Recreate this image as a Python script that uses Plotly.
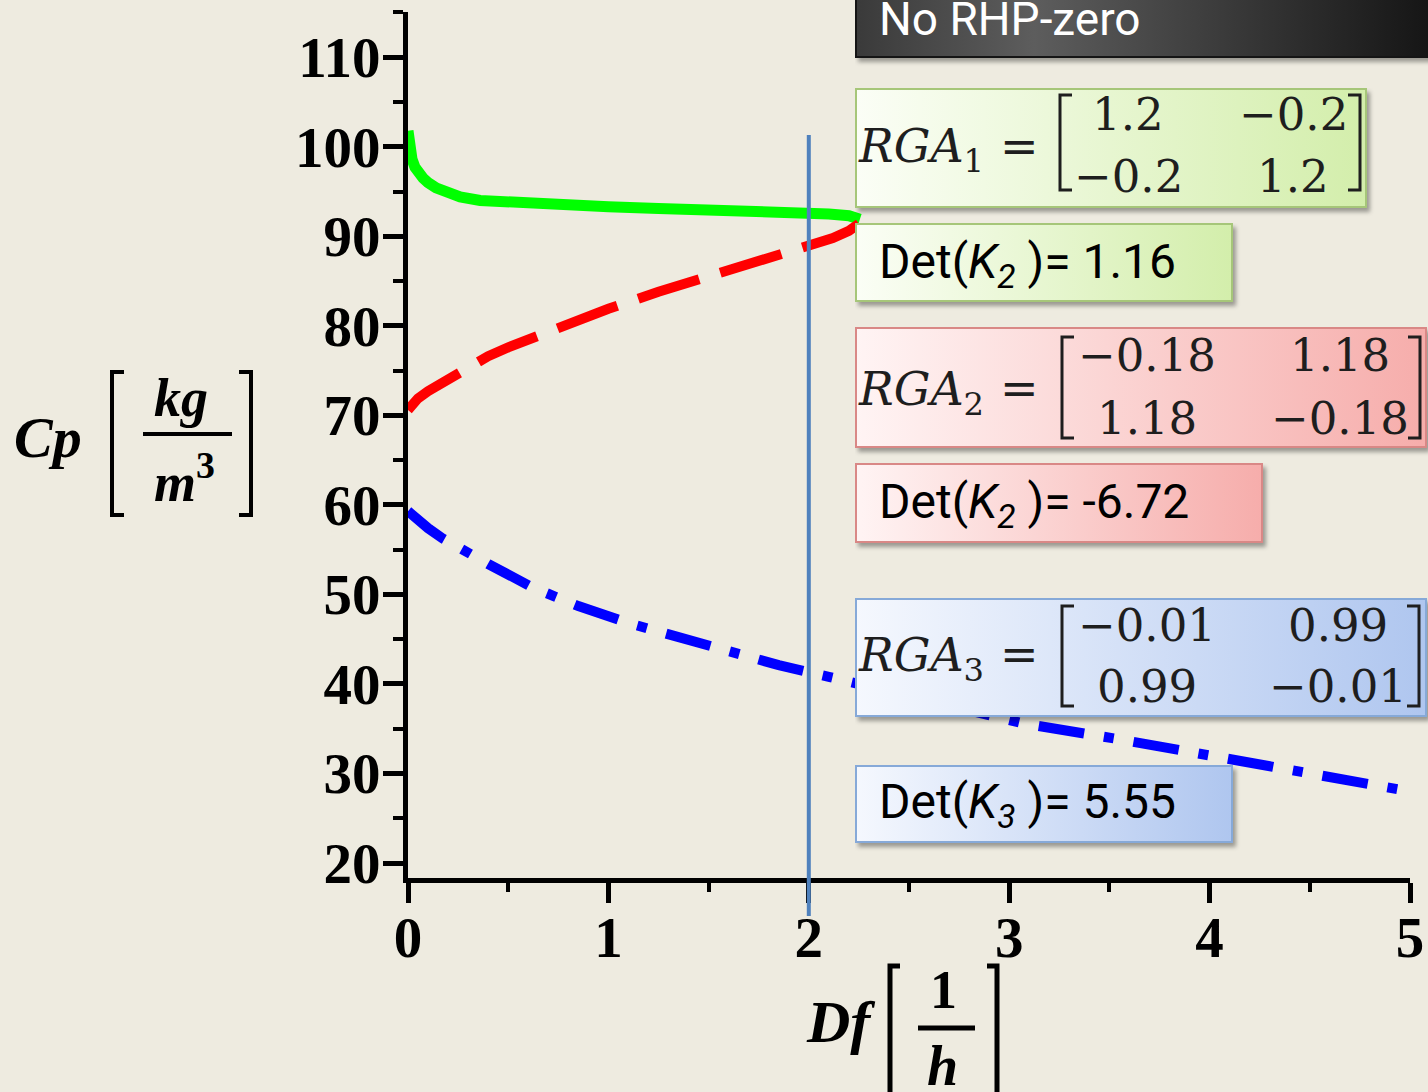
import base64
import plotly.graph_objects as go

# ---- steady-state branches: dilution rate Df [1/h] -> product concentration Cp [kg/m^3] ----
green_df = [0.0, 0.005, 0.01, 0.02, 0.035, 0.05, 0.075, 0.1, 0.14, 0.2, 0.26, 0.36, 0.5,
            0.75, 1.0, 1.25, 1.5, 1.75, 2.0, 2.1, 2.2, 2.255]
green_cp = [101.8, 100.3, 99.5, 98.6, 97.7, 97.1, 96.5, 96.0, 95.4, 94.9, 94.4, 94.0, 93.8,
            93.5, 93.3, 93.1, 93.0, 92.8, 92.6, 92.5, 92.3, 91.9]

red_df = [0.0, 0.02, 0.05, 0.1, 0.15, 0.2, 0.3, 0.4, 0.5, 0.7, 1.0, 1.25, 1.5, 1.75,
          2.0, 2.12, 2.2, 2.25]
red_cp = [70.6, 71.2, 71.9, 72.7, 73.4, 74.1, 75.4, 76.6, 77.6, 79.4, 81.9, 83.8, 85.5, 87.2,
          88.7, 89.8, 90.6, 91.4]

blue_df = [0.0, 0.05, 0.1, 0.17, 0.25, 0.4, 0.62, 0.85, 1.1, 1.35, 1.6, 1.85, 2.1, 2.5,
           3.07, 3.58, 4.08, 4.59, 5.0]
blue_cp = [59.3, 58.2, 57.4, 56.3, 55.2, 53.4, 50.8, 48.7, 46.8, 45.2, 43.6, 42.1, 40.8, 38.6,
           35.6, 33.7, 31.7, 29.8, 28.0]

# operating point marker
df_operating = 2.0

# relative gain arrays and gain determinants of the three branches
rga_1 = [["1.2", "\u22120.2"], ["\u22120.2", "1.2"]]
rga_2 = [["\u22120.18", "1.18"], ["1.18", "\u22120.18"]]
rga_3 = [["\u22120.01", "0.99"], ["0.99", "\u22120.01"]]
det_texts = ["Det(<i>K<sub>2</sub></i> )= 1.16",
             "Det(<i>K<sub>2</sub></i> )= -6.72",
             "Det(<i>K<sub>3</sub></i> )= 5.55"]
header_text = "No RHP-zero"

# ---- page geometry (pixels) ----
W, H = 1428, 1092
L, R, T, B = 408, 1410, 12, 878
PW, PH = R - L, B - T
BG = "#eeebe0"
SERIF = "Liberation Serif"
MATH = "DejaVu Serif"
SANS = "Roboto"


def fx(p):
    return (p - L) / PW


def fy(p):
    return (B - p) / PH


def panel(x0, y0, x1, y1, stops, edge, edge_w=2):
    """Gradient filled call-out box with a soft drop shadow, as an SVG image."""
    w, h = x1 - x0, y1 - y0
    pad = 9
    sw, sh = w + pad, h + pad
    stop_xml = "".join(f'<stop offset="{o}" stop-color="{c}"/>' for o, c in stops)
    svg = (f'<svg xmlns="http://www.w3.org/2000/svg" width="{sw}" height="{sh}" '
           f'viewBox="0 0 {sw} {sh}">'
           f'<defs><linearGradient id="g" x1="0" y1="0" x2="1" y2="0">{stop_xml}</linearGradient>'
           f'<filter id="b" x="-5%" y="-10%" width="115%" height="130%">'
           f'<feGaussianBlur stdDeviation="2.2"/></filter></defs>'
           f'<rect x="3" y="4" width="{w}" height="{h}" fill="#000" fill-opacity="0.35" '
           f'filter="url(#b)"/>'
           f'<rect x="{edge_w / 2}" y="{edge_w / 2}" width="{w - edge_w}" height="{h - edge_w}" '
           f'fill="url(#g)" stroke="{edge}" stroke-width="{edge_w}"/>'
           '</svg>')
    src = "data:image/svg+xml;base64," + base64.b64encode(svg.encode()).decode()
    return dict(source=src, xref="paper", yref="paper", x=fx(x0), y=fy(y0),
                sizex=sw / PW, sizey=sh / PH, xanchor="left", yanchor="top",
                sizing="stretch", layer="above")


def bracket(x, top, bot, arm, color="#222222", width=3):
    path = (f"M {fx(x + arm)},{fy(top)} L {fx(x)},{fy(top)} "
            f"L {fx(x)},{fy(bot)} L {fx(x + arm)},{fy(bot)}")
    return dict(type="path", xref="paper", yref="paper", path=path,
                line=dict(color=color, width=width), layer="above")


def label(text, x, y, size, family, color="black", xanchor="center", yanchor="middle"):
    return dict(text=text, x=fx(x), y=fy(y), xref="paper", yref="paper",
                xanchor=xanchor, yanchor=yanchor, showarrow=False,
                font=dict(family=family, size=size, color=color))


fig = go.Figure()

fig.add_trace(go.Scatter(x=green_df, y=green_cp, mode="lines",
                         line=dict(color="#00ff00", width=11), showlegend=False))
fig.add_trace(go.Scatter(x=red_df, y=red_cp, mode="lines",
                         line=dict(color="#ff0000", width=10, dash="64px,22px"),
                         showlegend=False))
fig.add_trace(go.Scatter(x=blue_df, y=blue_cp, mode="lines",
                         line=dict(color="#0000ff", width=10, dash="46px,20px,10px,20px"),
                         showlegend=False))

tick_font = dict(family=SERIF, size=57, color="black", weight="bold")

fig.update_xaxes(range=[0, 5], tick0=0, dtick=1, showgrid=False, zeroline=False,
                 automargin=False,
                 showline=True, linecolor="black", linewidth=5,
                 ticks="outside", ticklen=20, tickwidth=5, tickcolor="black",
                 minor=dict(dtick=0.5, ticks="outside", ticklen=9, tickwidth=4,
                            tickcolor="black", showgrid=False),
                 tickfont=tick_font, ticklabelstandoff=-14)
fig.update_yaxes(range=[18.33, 115.05], tick0=0, dtick=10, showgrid=False, zeroline=False,
                 automargin=False,
                 showline=True, linecolor="black", linewidth=5,
                 ticks="outside", ticklen=20, tickwidth=5, tickcolor="black",
                 minor=dict(dtick=5, ticks="outside", ticklen=10, tickwidth=4,
                            tickcolor="black", showgrid=False),
                 tickfont=tick_font, ticklabelstandoff=-9)

shapes = []
# vertical marker at the operating dilution rate
shapes.append(dict(type="line", xref="x", yref="paper", x0=df_operating, x1=df_operating,
                   y0=fy(916), y1=fy(135), line=dict(color="#4f81bd", width=4), layer="above"))

images = []
# header bar
images.append(panel(855, -20, 1450, 58, [(0, "#3a3a3a"), (0.3, "#5d5d5d"), (1, "#121212")],
                    "#151515"))
GREEN = [(0, "#fbfef6"), (1, "#d3eeab")]
PINK = [(0, "#fff4f4"), (1, "#f6adab")]
BLUE = [(0, "#f5f8fe"), (1, "#afc6ef")]
images.append(panel(855, 88, 1367, 208, GREEN, "#a6c679"))
images.append(panel(855, 223, 1233, 302, GREEN, "#a6c679"))
images.append(panel(855, 327, 1427, 448, PINK, "#d98886"))
images.append(panel(855, 463, 1263, 543, PINK, "#d98886"))
images.append(panel(855, 598, 1427, 717, BLUE, "#86a9d8"))
images.append(panel(855, 765, 1233, 843, BLUE, "#86a9d8"))

ann = []
ann.append(label(header_text, 877, 19, 46, SANS, color="white", xanchor="left"))

MATH_C = "#1e1e1e"


def rga_block(index, matrix, ymid, row_y, col_x, lb, rb, btop, bbot):
    ann.append(label(f"<i>RGA</i><sub>{index}</sub>", 856, ymid + 4, 46, MATH, MATH_C,
                     xanchor="left"))
    ann.append(label("=", 1019, ymid, 46, MATH, MATH_C))
    for r, yy in enumerate(row_y):
        for c, xx in enumerate(col_x):
            ann.append(label(matrix[r][c], xx, yy, 45, MATH, MATH_C))
    shapes.append(bracket(lb, btop, bbot, 12, MATH_C))
    shapes.append(bracket(rb, btop, bbot, -12, MATH_C))


rga_block(1, rga_1, 146, [114, 176], [1128, 1293], 1060, 1360, 95, 190)
rga_block(2, rga_2, 388, [355, 418], [1147, 1340], 1062, 1420, 337, 438)
rga_block(3, rga_3, 654, [625, 686], [1147, 1338], 1062, 1419, 606, 706)

ann.append(label(det_texts[0], 877, 264, 48, SANS, xanchor="left"))
ann.append(label(det_texts[1], 877, 504, 48, SANS, xanchor="left"))
ann.append(label(det_texts[2], 877, 804, 48, SANS, xanchor="left"))

# y-axis title: Cp [kg / m^3]
ann.append(label("<b><i>Cp</i></b>", 48, 437, 58, SERIF))
ann.append(label("<b><i>kg</i></b>", 181, 398, 54, SERIF))
ann.append(label("<b><i>m</i></b><sup><b>3</b></sup>", 184, 478, 54, SERIF))
shapes.append(dict(type="line", xref="paper", yref="paper", x0=fx(143), x1=fx(232),
                   y0=fy(434), y1=fy(434), line=dict(color="black", width=4)))
shapes.append(bracket(112, 372, 515, 12, "black", 4))
shapes.append(bracket(251, 372, 515, -12, "black", 4))

# x-axis title: Df [1 / h]
ann.append(label("<b><i>Df</i></b>", 840, 1022, 60, SERIF))
ann.append(label("<b>1</b>", 943, 990, 54, SERIF))
ann.append(label("<b><i>h</i></b>", 942, 1066, 56, SERIF))
shapes.append(dict(type="line", xref="paper", yref="paper", x0=fx(918), x1=fx(975),
                   y0=fy(1028), y1=fy(1028), line=dict(color="black", width=5)))
shapes.append(bracket(890, 966, 1100, 10, "black", 5))
shapes.append(bracket(997, 966, 1100, -10, "black", 5))

fig.update_layout(width=W, height=H, margin=dict(l=L, r=W - R, t=T, b=H - B, pad=0,
                                                 autoexpand=False),
                  paper_bgcolor=BG, plot_bgcolor=BG, showlegend=False,
                  shapes=shapes, images=images, annotations=ann)

fig.write_html("out.html")
